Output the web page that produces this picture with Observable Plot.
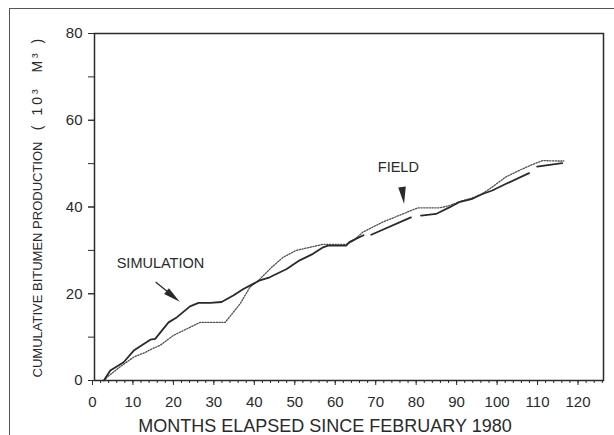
<!DOCTYPE html>
<html><head><meta charset="utf-8">
<script src="https://cdn.jsdelivr.net/npm/d3@7"></script>
<script src="https://cdn.jsdelivr.net/npm/@observablehq/plot@0.6"></script>
<style>
html,body{margin:0;padding:0;background:#fff;overflow:hidden;}
#wrap{position:relative;width:614px;height:435px;overflow:hidden;background:#fff;}
#border{position:absolute;left:9px;top:8px;width:700px;height:500px;border-top:1.5px solid #555;border-left:1.5px solid #555;pointer-events:none;}
.ylab2 text{letter-spacing:3px;}
</style></head><body><div id="wrap"></div>
<script>
// Simulation curve (solid); null marks a break in the drawn line
const simMonths = [2.8,4.4,6.5,7.7,10.2,12.2,14.3,15.5,18.8,20.9,24.1,26.2,29.1,31.9,34.8,37.3,41.4,43.8,48,51.2,54.5,57,58.2,62.7,63.5,65.2,67.0,67.8,68.9,78.7,79.8,81.2,84.9,88.2,90.6,93.9,96.4,98.8,102.1,107.9,108.8,109.9,116.1];
const simValues = [0,2.3,3.5,4.2,6.9,8.1,9.4,9.6,13.4,14.6,17.1,17.9,17.9,18.1,19.6,21.1,23.1,23.8,25.7,27.7,29.2,30.7,31.1,31.1,31.9,32.7,33.5,null,33.6,37.6,null,38.0,38.4,39.9,41.1,41.9,43.0,43.8,45.3,47.8,null,49.3,50.1];
// Field curve (dotted)
const fieldMonths = [3.0,3.6,6.9,10.2,13.1,14.7,16.7,20,23.3,26.6,32.8,36.5,38.9,41.4,44.3,47.1,50.4,53.7,57,62.7,64.5,66.8,71.7,76.7,80.4,85.7,88.2,90.6,93.9,96.4,98.8,102.1,105.4,108.7,111.2,115.3,116.5];
const fieldValues = [0,0.8,3.2,5.4,6.5,7.3,8.1,10.4,11.9,13.4,13.4,17.7,21.5,23.4,26.1,28.4,30.0,30.7,31.4,31.4,32.2,34.2,36.5,38.4,39.8,39.8,40.3,41.2,42.1,43.1,44.6,46.9,48.4,49.8,50.7,50.6,50.6];
const xTicks = [0,10,20,30,40,50,60,70,80,90,100,110,120];
const yTicks = [0,20,40,60,80];
const yLabel = "CUMULATIVE BITUMEN PRODUCTION";
const yLabelUnit = "( 10\u00B3  M\u00B3 )";
const xLabel = "MONTHS ELAPSED SINCE FEBRUARY 1980";
const notes = [{text:"SIMULATION", x:16.8, y:27.0},{text:"FIELD", x:75.6, y:49.1}];
const shafts = [{x1:15.6, y1:22.7, x2:18.8, y2:20.3}];
const heads = [{x:18.3, y:20.6, rot:129},{x:76.5, y:44.6, rot:173}];
// label anchors in chart units (outside the frame, left of the y axis)
const yLabelPos = [{text: yLabel, x: -13.6, y: 27.9}];
const yUnitPos = [{text: yLabelUnit, x: -13.6, y: 68.6}];

const sim = simMonths.map((m,i)=>({m, v: simValues[i]}));
const field = fieldMonths.map((m,i)=>({m, v: fieldValues[i]}));
const ink = "#2a2a2a";

const chart = Plot.plot({
  width: 614, height: 435,
  marginLeft: 94, marginRight: 11, marginTop: 33, marginBottom: 55,
  style: {fontFamily: "'Liberation Sans', Arial, sans-serif", fontSize: "15px", color: ink, background: "transparent", overflow: "visible"},
  x: {domain: [0.5, 126.3]},
  y: {domain: [0, 80]},
  marks: [
    Plot.frame({stroke: ink, strokeWidth: 1.5}),
    Plot.axisX({ticks: d3.range(2, 127, 2), tickSize: 3, text: null, label: null, stroke: ink}),
    Plot.axisX({ticks: xTicks, tickSize: 5, tickPadding: 11, label: null, stroke: ink, fill: ink, fontSize: 15}),
    Plot.axisY({ticks: d3.range(0, 81, 10), tickSize: 6, text: null, label: null, stroke: ink}),
    Plot.axisY({ticks: yTicks, tickSize: 6, tickPadding: 6, label: null, stroke: ink, fill: ink, fontSize: 15}),
    Plot.line(field, {x: "m", y: "v", stroke: "#505050", strokeWidth: 1.3, strokeDasharray: "1.3,1.5"}),
    Plot.line(sim, {x: "m", y: "v", stroke: ink, strokeWidth: 1.8}),
    Plot.text(notes, {x: "x", y: "y", text: "text", fontSize: 14.5, fill: ink}),
    Plot.link(shafts, {x1: "x1", y1: "y1", x2: "x2", y2: "y2", stroke: ink, strokeWidth: 1.3}),
    Plot.vector(heads, {x: "x", y: "y", rotate: "rot", length: 17, r: 3.8, shape: "spike", anchor: "start", fill: ink, stroke: "none"}),
    Plot.text(yLabelPos, {x: "x", y: "y", text: "text", rotate: -90, fontSize: 13, fill: ink}),
    Plot.text(yUnitPos, {x: "x", y: "y", text: "text", rotate: -90, fontSize: 14, fill: ink, className: "ylab2"}),
    Plot.text([xLabel], {text: d => d, frameAnchor: "bottom", dx: -24, dy: 51.5, fontSize: 18, fill: ink})
  ]
});
const wrap = document.getElementById("wrap");
wrap.appendChild(chart);
const b = document.createElement("div"); b.id = "border"; wrap.appendChild(b);
</script>
</body></html>
